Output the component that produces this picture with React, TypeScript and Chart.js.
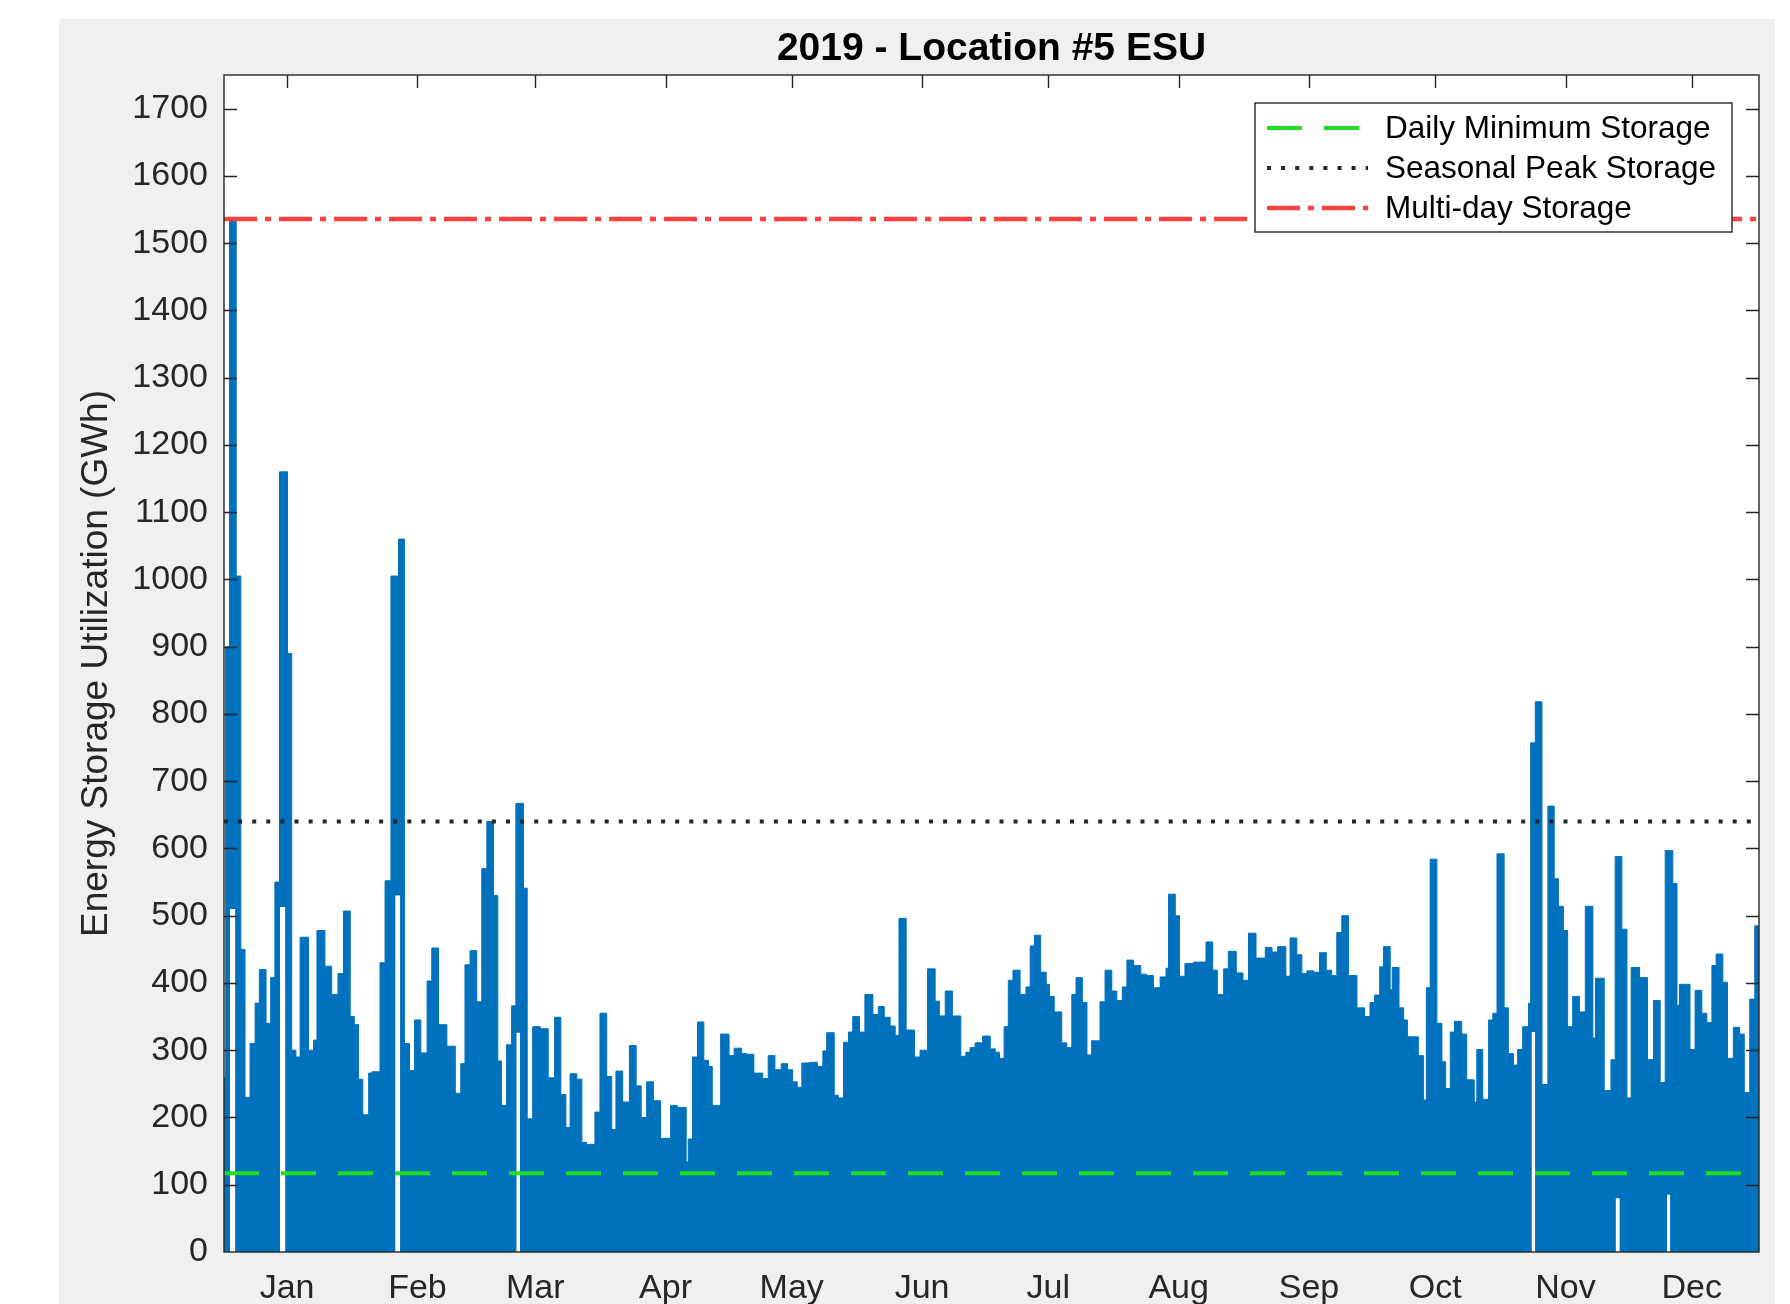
import React, { useEffect, useRef } from "react";
import { Chart, registerables } from "chart.js";

Chart.register(...registerables);

const FONT = '"Liberation Sans", Arial, Helvetica, sans-serif';

const chartTitle = "2019 - Location #5 ESU";
const yAxisTitle = "Energy Storage Utilization (GWh)";
const monthLabels = ["Jan", "Feb", "Mar", "Apr", "May", "Jun", "Jul", "Aug", "Sep", "Oct", "Nov", "Dec"];
// day of year of the 15th of each month (tick positions)
const monthTickDays = [15, 46, 74, 105, 135, 166, 196, 227, 258, 288, 319, 349];
const yearLength = 365;

// Utilization: level holds from each start day until the next start day (GWh)
const stepStart = [
  0, 0.4, 1.3, 2.9, 4.0, 5.0, 6.2, 7.4, 8.4, 10.0, 11.1, 12.1, 13.2, 15.1, 16.1, 17.1, 18.1, 20.1, 21.3, 22.1,
  24.0, 25.6, 27.1, 28.4, 30.0, 31.0, 32.0, 33.0, 34.4, 35.2, 37.1, 38.3, 39.7, 41.5, 42.9, 44.1, 45.3, 46.8, 48.3, 49.4,
  51.0, 53.0, 55.0, 56.3, 57.3, 58.5, 60.1, 61.3, 62.5, 64.1, 65.1, 66.0, 67.2, 68.4, 69.4, 71.2, 72.1, 73.4, 75.2, 77.1,
  78.6, 80.1, 81.3, 82.3, 83.9, 85.1, 86.2, 88.2, 89.4, 91.0, 92.2, 93.2, 94.8, 96.4, 98.0, 99.2, 100.5, 102.1, 103.8, 106.2,
  107.8, 109.9, 110.4, 111.4, 112.6, 114.1, 115.2, 116.1, 118.1, 120.1, 121.3, 123.1, 124.3, 126.0, 128.1, 129.4, 131.0, 132.5, 134.0, 135.2,
  136.3, 137.4, 139.2, 141.1, 142.4, 143.3, 145.1, 146.1, 147.3, 148.5, 149.5, 151.1, 152.4, 154.3, 155.6, 157.0, 158.4, 159.6, 160.5, 162.2,
  164.2, 165.5, 167.3, 169.1, 170.1, 171.5, 173.2, 175.2, 176.4, 177.4, 178.6, 180.4, 182.2, 183.4, 184.4, 185.5, 186.5, 187.6, 189.3, 190.7,
  191.7, 192.7, 194.2, 195.5, 196.3, 197.4, 199.2, 200.4, 201.6, 202.6, 204.1, 205.2, 206.3, 208.3, 209.5, 211.1, 212.3, 213.6, 214.7, 216.3,
  218.0, 219.4, 221.0, 222.6, 224.0, 224.6, 226.2, 227.2, 228.5, 230.5, 233.5, 235.1, 236.2, 237.7, 238.8, 240.7, 242.3, 243.6, 245.4, 247.6,
  249.2, 250.5, 252.5, 253.5, 255.1, 256.3, 257.5, 259.1, 260.5, 262.1, 263.4, 264.6, 265.8, 267.4, 269.4, 271.2, 272.5, 273.6, 274.8, 275.7,
  277.3, 277.8, 279.4, 280.5, 281.4, 284.0, 285.2, 285.9, 286.8, 288.4, 289.6, 290.5, 291.6, 292.6, 294.3, 295.5, 297.3, 297.9, 299.3, 300.7,
  301.7, 302.7, 304.4, 305.4, 306.6, 307.6, 308.8, 310.2, 310.7, 311.8, 313.4, 314.8, 316.3, 317.3, 318.5, 319.5, 320.7, 322.3, 323.7, 325.5,
  326.1, 328.2, 329.8, 330.8, 332.4, 333.6, 334.6, 336.6, 338.5, 339.9, 341.5, 342.7, 344.5, 345.5, 346.1, 348.6, 349.8, 351.4, 352.6, 353.8,
  354.8, 356.4, 357.5, 358.9, 360.4, 361.5, 362.8, 364.0,
];
const stepValue = [
  260, 900, 1538, 1005, 450, 230, 310, 370, 420, 340, 408, 550, 1160, 890, 300, 290, 468, 300, 315, 478,
  425, 383, 414, 507, 350, 338, 257, 204, 266, 268, 430, 552, 1005, 1060, 310, 270, 345, 296, 403, 452,
  338, 306, 236, 280, 427, 448, 372, 570, 640, 530, 284, 218, 308, 366, 667, 541, 198, 335, 332, 259,
  349, 234, 185, 265, 257, 163, 160, 208, 355, 261, 182, 269, 223, 307, 247, 200, 253, 225, 169, 218,
  215, 134, 168, 290, 342, 285, 276, 218, 324, 292, 303, 295, 294, 266, 258, 292, 271, 280, 271, 253,
  245, 281, 282, 276, 299, 326, 233, 229, 312, 327, 350, 327, 383, 353, 365, 349, 336, 322, 496, 330,
  290, 300, 421, 373, 351, 388, 351, 291, 297, 304, 311, 321, 302, 297, 288, 335, 404, 419, 383, 394,
  455, 471, 416, 398, 380, 357, 311, 304, 383, 408, 371, 293, 314, 372, 419, 388, 374, 394, 434, 426,
  413, 411, 393, 409, 422, 532, 500, 410, 429, 431, 461, 419, 383, 421, 447, 415, 404, 474, 437, 453,
  446, 454, 410, 467, 442, 414, 418, 416, 445, 419, 411, 475, 500, 411, 363, 350, 371, 382, 424, 454,
  390, 423, 363, 345, 320, 292, 226, 393, 584, 340, 283, 243, 327, 343, 324, 256, 223, 301, 227, 345,
  355, 592, 363, 295, 278, 301, 335, 370, 757, 818, 249, 663, 555, 514, 478, 335, 380, 357, 514, 318,
  407, 240, 286, 588, 480, 229, 423, 408, 286, 374, 252, 597, 548, 367, 398, 301, 389, 355, 341, 426,
  443, 401, 288, 334, 324, 237, 376, 485,
];

// Periods when the storage did not drop below a floor level (visible as white gaps)
const floorStart = [1.4, 13.3, 40.7, 69.5, 310.9, 330.9, 343.1];
const floorEnd = [2.7, 14.6, 41.9, 70.4, 311.8, 331.9, 343.9];
const floorLevel = [510, 513, 530, 326, 327, 80, 85];

const dailyMinimumStorage = 117;
const seasonalPeakStorage = 640;
const multiDayStorage = 1536;

const BLUE = "#0072BD";
const GREEN = "#1ee01e";
const DOTS = "#262626";
const RED = "#ff4040";
const AXIS = "#262626";

const utilizationPoints = stepStart
  .map((x, i) => ({ x, y: stepValue[i] }))
  .concat([{ x: yearLength, y: stepValue[stepValue.length - 1] }]);

const floorPoints: { x: number; y: number | null }[] = [];
floorStart.forEach((s, i) => {
  floorPoints.push({ x: s, y: floorLevel[i] });
  floorPoints.push({ x: floorEnd[i], y: floorLevel[i] });
  floorPoints.push({ x: floorEnd[i] + 0.001, y: null });
});

const hLine = (v: number) => [
  { x: 0, y: v },
  { x: yearLength, y: v },
];

const bgPlugin = {
  id: "plotBg",
  beforeDraw(chart: any) {
    const { ctx, chartArea } = chart;
    ctx.save();
    ctx.fillStyle = "#ffffff";
    ctx.fillRect(chartArea.left, chartArea.top, chartArea.right - chartArea.left, chartArea.bottom - chartArea.top);
    ctx.restore();
  },
};

const axesPlugin = {
  id: "matlabAxes",
  afterDatasetsDraw(chart: any) {
    const { ctx, chartArea, scales } = chart;
    const { left, right, top, bottom } = chartArea;
    const tl = 13;
    ctx.save();
    ctx.strokeStyle = AXIS;
    ctx.lineWidth = 1.4;
    ctx.beginPath();
    scales.x.ticks.forEach((t: any) => {
      const px = Math.round(scales.x.getPixelForValue(t.value)) + 0.5;
      ctx.moveTo(px, top);
      ctx.lineTo(px, top + tl);
    });
    scales.y.ticks.forEach((t: any) => {
      const py = Math.round(scales.y.getPixelForValue(t.value)) + 0.5;
      if (t.value === 0) return;
      ctx.moveTo(left, py);
      ctx.lineTo(left + tl, py);
      ctx.moveTo(right, py);
      ctx.lineTo(right - tl, py);
    });
    ctx.stroke();
    ctx.strokeRect(left, top, right - left, bottom - top);
    ctx.restore();
  },
};

const legendPlugin = {
  id: "matlabLegend",
  afterDraw(chart: any) {
    const { ctx, chartArea } = chart;
    const w = 477;
    const h = 129;
    const x0 = chartArea.right - 27 - w;
    const y0 = chartArea.top + 28;
    ctx.save();
    ctx.fillStyle = "#ffffff";
    ctx.fillRect(x0, y0, w, h);
    ctx.strokeStyle = AXIS;
    ctx.lineWidth = 1.4;
    ctx.strokeRect(x0, y0, w, h);
    const items = chart.data.datasets.filter((d: any) => d.inLegend);
    items.forEach((d: any, i: number) => {
      const cy = y0 + 25 + i * 40;
      ctx.save();
      ctx.setLineDash(d.borderDash || []);
      ctx.strokeStyle = d.borderColor;
      ctx.lineWidth = d.borderWidth;
      ctx.beginPath();
      ctx.moveTo(x0 + 12, cy);
      ctx.lineTo(x0 + 113, cy);
      ctx.stroke();
      ctx.restore();
      ctx.fillStyle = "#000000";
      ctx.font = `31.5px ${FONT}`;
      ctx.textBaseline = "middle";
      ctx.textAlign = "left";
      ctx.fillText(d.label, x0 + 130, cy + 1);
    });
    ctx.restore();
  },
};

export default function App() {
  const canvasRef = useRef<HTMLCanvasElement | null>(null);

  useEffect(() => {
    if (!canvasRef.current) return;
    Chart.defaults.font.family = FONT;
    const chart = new Chart(canvasRef.current, {
      type: "line",
      data: {
        datasets: [
          {
            label: "Daily Minimum Storage",
            inLegend: true,
            data: hLine(dailyMinimumStorage),
            borderColor: GREEN,
            borderWidth: 4,
            borderDash: [35, 22],
            pointRadius: 0,
            fill: false,
            order: 1,
          } as any,
          {
            label: "Seasonal Peak Storage",
            inLegend: true,
            data: hLine(seasonalPeakStorage),
            borderColor: DOTS,
            borderWidth: 4,
            borderDash: [4, 10.1],
            pointRadius: 0,
            fill: false,
            order: 1,
          } as any,
          {
            label: "Multi-day Storage",
            inLegend: true,
            data: hLine(multiDayStorage),
            borderColor: RED,
            borderWidth: 4.5,
            borderDash: [33, 8, 6, 8],
            pointRadius: 0,
            fill: false,
            order: 1,
          } as any,
          {
            label: "Floor",
            data: floorPoints,
            stepped: true,
            borderWidth: 0,
            borderColor: "rgba(255,255,255,0)",
            backgroundColor: "#ffffff",
            fill: "origin",
            pointRadius: 0,
            spanGaps: false,
            order: 3,
          } as any,
          {
            label: "Utilization",
            data: utilizationPoints,
            stepped: true,
            borderColor: BLUE,
            borderWidth: 1,
            backgroundColor: BLUE,
            fill: "origin",
            pointRadius: 0,
            order: 4,
          } as any,
        ],
      },
      options: {
        animation: false,
        responsive: false,
        devicePixelRatio: 1,
        events: [],
        layout: { padding: { left: 0, right: 16, top: 0, bottom: 0 } },
        plugins: {
          legend: { display: false },
          tooltip: { enabled: false },
          title: {
            display: true,
            text: chartTitle,
            fullSize: false,
            color: "#000000",
            font: { family: FONT, size: 39, weight: "bold", lineHeight: 1.2 },
            padding: { top: 6.6, bottom: 2.6 },
          },
        },
        scales: {
          x: {
            type: "linear",
            min: 0,
            max: yearLength,
            afterBuildTicks: (s: any) => {
              s.ticks = monthTickDays.map((v) => ({ value: v }));
            },
            afterFit: (s: any) => {
              s.height = 52;
            },
            ticks: {
              autoSkip: false,
              maxRotation: 0,
              minRotation: 0,
              padding: 16,
              color: AXIS,
              font: { family: FONT, size: 34 },
              callback: (_v: any, i: number) => monthLabels[i],
            },
            grid: { display: false, drawTicks: false },
            border: { display: false },
          },
          y: {
            type: "linear",
            min: 0,
            max: 1750,
            afterFit: (s: any) => {
              s.width = 165;
            },
            ticks: {
              stepSize: 100,
              includeBounds: false,
              padding: 16,
              color: AXIS,
              font: { family: FONT, size: 34 },
              callback: (v: any) => String(v),
            },
            grid: { display: false, drawTicks: false },
            border: { display: false },
            title: {
              display: true,
              text: yAxisTitle,
              color: AXIS,
              font: { family: FONT, size: 37, lineHeight: 1.2 },
              padding: { top: 16, bottom: 0 },
            },
          },
        },
      } as any,
      plugins: [bgPlugin, axesPlugin, legendPlugin],
    });
    return () => chart.destroy();
  }, []);

  return (
    <div
      style={{
        position: "absolute",
        left: 59,
        top: 19,
        width: 1716,
        height: 1285,
        background: "#f0f0f0",
      }}
    >
      <canvas ref={canvasRef} width={1716} height={1285} style={{ display: "block" }} />
    </div>
  );
}
